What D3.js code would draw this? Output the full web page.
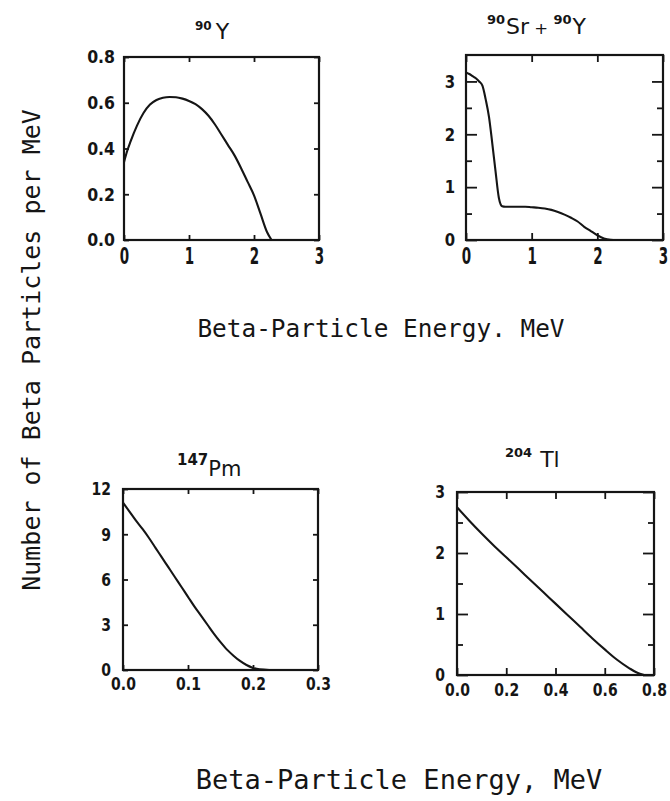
<!DOCTYPE html>
<html>
<head>
<meta charset="utf-8">
<script src="https://cdn.jsdelivr.net/npm/d3@7"></script>
<style>
  html, body { margin: 0; padding: 0; background: #fff; }
  svg { display: block; }
  .mono { font-family: "DejaVu Sans Mono", monospace; fill: #151515; }
  .title { font-family: "DejaVu Sans", sans-serif; fill: #151515; }
</style>
</head>
<body>
<svg id="chart" width="670" height="801"></svg>
<script>
// ---- Beta spectra: energy (MeV) and particles per MeV ----
const y90Energy = [0, 0.05, 0.1, 0.2, 0.3, 0.4, 0.5, 0.6, 0.7, 0.8, 0.9, 1.0, 1.1, 1.2, 1.3, 1.4, 1.5, 1.6, 1.7, 1.8, 1.9, 2.0, 2.1, 2.2, 2.27];
const y90Counts = [0.34, 0.39, 0.43, 0.5, 0.555, 0.592, 0.612, 0.622, 0.625, 0.624, 0.618, 0.608, 0.594, 0.572, 0.543, 0.505, 0.46, 0.415, 0.37, 0.315, 0.255, 0.195, 0.115, 0.035, 0];

const srYEnergy = [0, 0.05, 0.1, 0.15, 0.2, 0.25, 0.3, 0.35, 0.4, 0.45, 0.5, 0.55, 0.6, 0.7, 0.8, 0.9, 1.0, 1.1, 1.2, 1.3, 1.4, 1.5, 1.6, 1.7, 1.8, 1.9, 2.0, 2.1, 2.2, 2.3];
const srYCounts = [3.17, 3.14, 3.1, 3.06, 3.0, 2.92, 2.66, 2.33, 1.83, 1.3, 0.8, 0.64, 0.63, 0.63, 0.63, 0.63, 0.62, 0.61, 0.595, 0.57, 0.53, 0.48, 0.42, 0.35, 0.25, 0.17, 0.09, 0.03, 0.005, 0];

const pm147Energy = [0, 0.01, 0.02, 0.03, 0.04, 0.05, 0.06, 0.07, 0.08, 0.09, 0.1, 0.11, 0.12, 0.13, 0.14, 0.15, 0.16, 0.17, 0.18, 0.19, 0.2, 0.21, 0.225];
const pm147Counts = [11.1, 10.5, 9.9, 9.35, 8.75, 8.1, 7.45, 6.8, 6.15, 5.5, 4.85, 4.2, 3.6, 3.0, 2.4, 1.85, 1.35, 0.95, 0.6, 0.33, 0.14, 0.04, 0];

const tl204Energy = [0, 0.05, 0.1, 0.15, 0.2, 0.25, 0.3, 0.35, 0.4, 0.45, 0.5, 0.55, 0.6, 0.65, 0.7, 0.73, 0.76];
const tl204Counts = [2.75, 2.53, 2.32, 2.12, 1.93, 1.74, 1.55, 1.36, 1.17, 0.98, 0.79, 0.6, 0.42, 0.25, 0.11, 0.04, 0];

// ---- Tick values ----
const mevTicksWide = [0, 1, 2, 3];
const mevTicksPm = [0, 0.1, 0.2, 0.3];
const mevTicksTl = [0, 0.2, 0.4, 0.6, 0.8];
const y90Ticks = [0, 0.2, 0.4, 0.6, 0.8];
const srYTicks = [0, 1, 2, 3];
const srYMinor = [0.5, 1.5, 2.5];
const pm147Ticks = [0, 3, 6, 9, 12];
const tl204Ticks = [0, 1, 2, 3];
const tl204Minor = [0.5, 1.5, 2.5];

// ---- Panel titles (superscripted mass numbers) ----
const y90Title = [{ t: "90", sup: true }, { t: "Y" }];
const srYTitle = [{ t: "90", sup: true }, { t: "Sr" }, { t: " + ", plus: true }, { t: "90", sup: true }, { t: "Y" }];
const pm147Title = [{ t: "147", sup: true }, { t: "Pm" }];
const tl204Title = [{ t: "204", sup: true }, { t: "Tl", gap: 8 }];

const yAxisTitle = "Number of Beta Particles per MeV";
const xAxisTitle1 = "Beta-Particle Energy. MeV";
const xAxisTitle2 = "Beta-Particle Energy, MeV";

const ink = "#151515";
const svg = d3.select("#chart");

const panels = [
  {
    energy: y90Energy, counts: y90Counts, title: y90Title,
    xDomain: [0, 3], yDomain: [0, 0.8],
    xTicks: mevTicksWide, yTicks: y90Ticks, yMinor: [],
    xFmt: d3.format("d"), yFmt: d3.format(".1f"),
    box: { left: 124, right: 319, top: 57, bottom: 240 },
    tickLen: 5, minorLen: 0, xTickLen: 5,
    xLab: { size: 22.5, sx: 0.6, pad: 8 }, yLab: { size: 17.5, sx: 0.9, pad: 9 },
    titlePos: { x: 195, y: 39, sup: 12, main: 22, gap: 4 }
  },
  {
    energy: srYEnergy, counts: srYCounts, title: srYTitle,
    xDomain: [0, 3], yDomain: [0, 3.5],
    xTicks: mevTicksWide, yTicks: srYTicks, yMinor: srYMinor,
    xFmt: d3.format("d"), yFmt: d3.format("d"),
    box: { left: 466, right: 663, top: 55, bottom: 240 },
    tickLen: 11, minorLen: 6, xTickLen: 7,
    xLab: { size: 22.5, sx: 0.6, pad: 8 }, yLab: { size: 17.5, sx: 0.85, pad: 11 },
    titlePos: { x: 487, y: 34, sup: 13, main: 22, gap: 1 }
  },
  {
    energy: pm147Energy, counts: pm147Counts, title: pm147Title,
    xDomain: [0, 0.3], yDomain: [0, 12],
    xTicks: mevTicksPm, yTicks: pm147Ticks, yMinor: [],
    xFmt: d3.format(".1f"), yFmt: d3.format("d"),
    box: { left: 123, right: 318, top: 489, bottom: 670 },
    tickLen: 5, minorLen: 0, xTickLen: 5,
    xLab: { size: 17.5, sx: 0.8, pad: 7 }, yLab: { size: 17.5, sx: 0.8, pad: 12 },
    titlePos: { x: 177, y: 476, sup: 15, main: 21, gap: 0 }
  },
  {
    energy: tl204Energy, counts: tl204Counts, title: tl204Title,
    xDomain: [0, 0.8], yDomain: [0, 3],
    xTicks: mevTicksTl, yTicks: tl204Ticks, yMinor: tl204Minor,
    xFmt: d3.format(".1f"), yFmt: d3.format("d"),
    box: { left: 457, right: 654, top: 492, bottom: 675 },
    tickLen: 11, minorLen: 6, xTickLen: 7,
    xLab: { size: 17.5, sx: 0.8, pad: 8 }, yLab: { size: 17.5, sx: 0.8, pad: 12 },
    titlePos: { x: 505, y: 467, sup: 13, main: 22, gap: 0 }
  }
];

function styleTicks(sel) {
  sel.select(".domain").remove();
  sel.selectAll(".tick line").attr("stroke", ink).attr("stroke-width", 1.8);
}

function drawPanel(p) {
  const g = svg.append("g");
  const b = p.box;
  const x = d3.scaleLinear().domain(p.xDomain).range([b.left, b.right]);
  const y = d3.scaleLinear().domain(p.yDomain).range([b.bottom, b.top]);

  // left axis with labels, ticks pointing inward
  const left = g.append("g").attr("transform", `translate(${b.left},0)`)
    .call(d3.axisLeft(y).tickValues(p.yTicks).tickSize(-p.tickLen).tickFormat(p.yFmt))
    .call(styleTicks);
  left.selectAll(".tick text")
    .attr("font-family", "DejaVu Sans, sans-serif").attr("font-weight", "bold")
    .attr("font-size", p.yLab.size).attr("fill", ink)
    .attr("transform", `scale(${p.yLab.sx},1)`)
    .attr("x", -p.yLab.pad / p.yLab.sx).attr("dy", "0.33em");

  // right axis, ticks only
  g.append("g").attr("transform", `translate(${b.right},0)`)
    .call(d3.axisRight(y).tickValues(p.yTicks).tickSize(-p.tickLen).tickFormat(""))
    .call(styleTicks);

  // minor ticks on both sides
  if (p.yMinor.length) {
    g.append("g").attr("transform", `translate(${b.left},0)`)
      .call(d3.axisLeft(y).tickValues(p.yMinor).tickSize(-p.minorLen).tickFormat(""))
      .call(styleTicks);
    g.append("g").attr("transform", `translate(${b.right},0)`)
      .call(d3.axisRight(y).tickValues(p.yMinor).tickSize(-p.minorLen).tickFormat(""))
      .call(styleTicks);
  }

  // bottom axis with labels
  const bottom = g.append("g").attr("transform", `translate(0,${b.bottom})`)
    .call(d3.axisBottom(x).tickValues(p.xTicks).tickSize(-p.xTickLen).tickFormat(p.xFmt))
    .call(styleTicks);
  bottom.selectAll(".tick text")
    .attr("font-family", "DejaVu Sans, sans-serif").attr("font-weight", "bold")
    .attr("font-size", p.xLab.size).attr("fill", ink)
    .attr("transform", `scale(${p.xLab.sx},1)`)
    .attr("y", p.xLab.pad).attr("dy", "0.72em");

  // top axis, ticks only
  g.append("g").attr("transform", `translate(0,${b.top})`)
    .call(d3.axisTop(x).tickValues(p.xTicks).tickSize(-p.xTickLen).tickFormat(""))
    .call(styleTicks);

  // frame
  g.append("rect")
    .attr("x", b.left).attr("y", b.top)
    .attr("width", b.right - b.left).attr("height", b.bottom - b.top)
    .attr("fill", "none").attr("stroke", ink).attr("stroke-width", 2.2);

  // spectrum curve
  const pts = p.energy.map((e, i) => [e, p.counts[i]]);
  g.append("path")
    .datum(pts)
    .attr("fill", "none").attr("stroke", ink).attr("stroke-width", 2.1)
    .attr("stroke-linejoin", "round")
    .attr("d", d3.line().x(d => x(d[0])).y(d => y(d[1])).curve(d3.curveMonotoneX));

  // title with superscript mass number
  const tp = p.titlePos;
  const t = g.append("text").attr("class", "title").attr("x", tp.x).attr("y", tp.y);
  let raised = false;
  p.title.forEach(part => {
    const ts = t.append("tspan").text(part.t);
    if (part.sup) {
      ts.attr("font-size", tp.sup).attr("font-weight", "bold");
      if (!raised) { ts.attr("dy", -tp.sup * 0.75); raised = true; }
    } else {
      ts.attr("font-size", part.plus ? tp.main * 0.75 : tp.main);
      if (raised) {
        ts.attr("dy", tp.sup * 0.75).attr("dx", part.gap != null ? part.gap : tp.gap);
        raised = false;
      }
    }
  });
}

panels.forEach(drawPanel);

// shared axis titles
svg.append("text").attr("class", "mono")
  .attr("transform", "translate(40,350) rotate(-90)")
  .attr("text-anchor", "middle").attr("font-size", 25)
  .text(yAxisTitle);

svg.append("text").attr("class", "mono")
  .attr("x", 381).attr("y", 337)
  .attr("text-anchor", "middle").attr("font-size", 24.4)
  .text(xAxisTitle1);

svg.append("text").attr("class", "mono")
  .attr("x", 399).attr("y", 789)
  .attr("text-anchor", "middle").attr("font-size", 27)
  .text(xAxisTitle2);
</script>
</body>
</html>
